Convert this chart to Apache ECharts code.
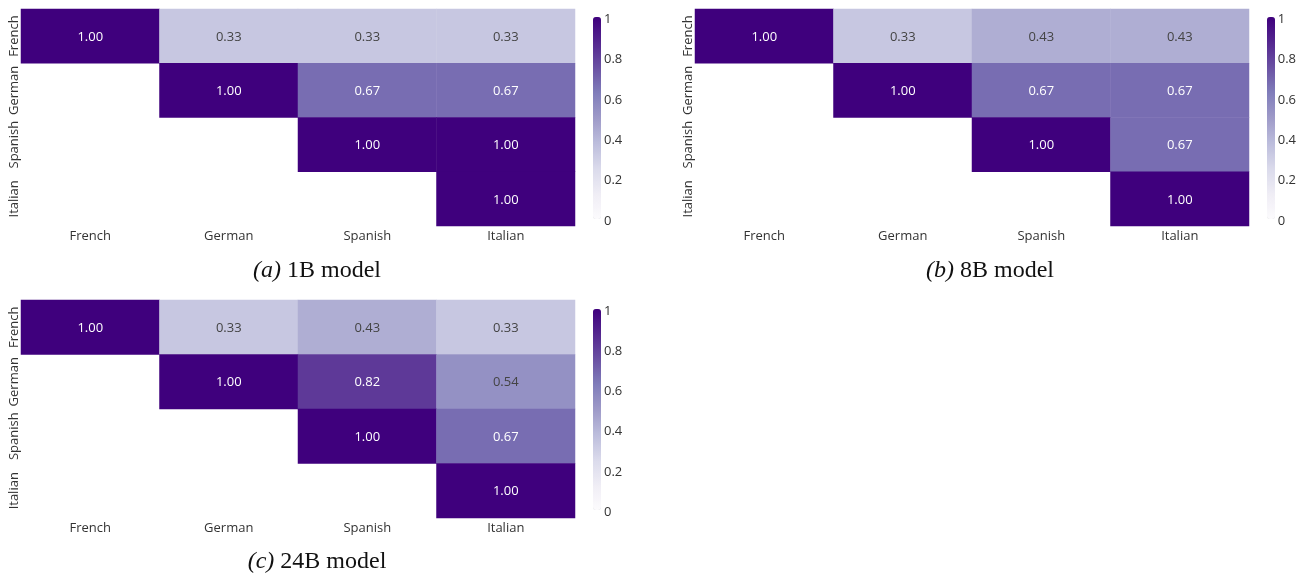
<!DOCTYPE html>
<html>
<head>
<meta charset="utf-8">
<script src="https://cdn.jsdelivr.net/npm/echarts@6/dist/echarts.min.js"></script>
<style>
  html, body { margin: 0; padding: 0; background: #fff; }
  #chart { width: 1299px; height: 573px; }
</style>
</head>
<body>
<div id="chart"></div>
<script>
// Languages on both axes (rows top to bottom, columns left to right)
const languages = ['French', 'German', 'Spanish', 'Italian'];

// Pairwise similarity, upper triangle only (null = not drawn)
const model1B = [
  [1.00, 0.33, 0.33, 0.33],
  [null, 1.00, 0.67, 0.67],
  [null, null, 1.00, 1.00],
  [null, null, null, 1.00]
];
const model8B = [
  [1.00, 0.33, 0.43, 0.43],
  [null, 1.00, 0.67, 0.67],
  [null, null, 1.00, 0.67],
  [null, null, null, 1.00]
];
const model24B = [
  [1.00, 0.33, 0.43, 0.33],
  [null, 1.00, 0.82, 0.54],
  [null, null, 1.00, 0.67],
  [null, null, null, 1.00]
];

const captions = [
  { tag: '(a)', text: '1B model' },
  { tag: '(b)', text: '8B model' },
  { tag: '(c)', text: '24B model' }
];
const colorbarTicks = [0, 0.2, 0.4, 0.6, 0.8, 1];

// Purples ramp
const purples = ['#fcfbfd', '#efedf5', '#dadaeb', '#bcbddc', '#9e9ac8',
                 '#807dba', '#6a51a3', '#54278f', '#3f007d'];

const LABEL_FONT = '"Open Sans", "Noto Sans", sans-serif';

const panels = [
  { matrix: model1B,  grid: { left: 21,  top: 9,   width: 554, height: 217 }, bar: { left: 593,  top: 17,  height: 202 }, cap: { x: 317, y: 259 } },
  { matrix: model8B,  grid: { left: 695, top: 9,   width: 554, height: 217 }, bar: { left: 1267, top: 17,  height: 202 }, cap: { x: 990, y: 259 } },
  { matrix: model24B, grid: { left: 21,  top: 300, width: 554, height: 218 }, bar: { left: 593,  top: 309, height: 201 }, cap: { x: 317, y: 550 } }
];

function toCells(matrix) {
  const cells = [];
  matrix.forEach((row, r) => row.forEach((v, c) => {
    if (v !== null) cells.push([c, r, v]);
  }));
  return cells;
}

const grids = [], xAxes = [], yAxes = [], series = [], visualMaps = [], titles = [];

panels.forEach((p, i) => {
  // heatmap grid
  grids.push(Object.assign({ containLabel: false }, p.grid));
  xAxes.push({
    type: 'category', data: languages, gridIndex: grids.length - 1,
    axisLine: { show: false }, axisTick: { show: false }, splitArea: { show: false },
    axisLabel: { fontFamily: LABEL_FONT, fontSize: 13, color: '#333', margin: 4, interval: 0 }
  });
  yAxes.push({
    type: 'category', data: languages, gridIndex: grids.length - 1, inverse: true,
    axisLine: { show: false }, axisTick: { show: false },
    axisLabel: { fontFamily: LABEL_FONT, fontSize: 13, color: '#333', margin: 0, rotate: 90, interval: 0, hideOverlap: false }
  });
  series.push({
    type: 'heatmap', xAxisIndex: xAxes.length - 1, yAxisIndex: yAxes.length - 1,
    data: toCells(p.matrix).map(d => ({
      value: d,
      // light text on dark cells
      label: { color: d[2] >= 0.6 ? '#ffffff' : '#444444' }
    })),
    label: {
      show: true, fontFamily: LABEL_FONT, fontSize: 13, offset: [0, 1],
      formatter: d => d.value[2].toFixed(2)
    },
    emphasis: { disabled: true },
    itemStyle: { borderWidth: 0 }
  });
  visualMaps.push({
    type: 'continuous', min: 0, max: 1, seriesIndex: series.length - 1,
    orient: 'vertical', left: p.bar.left, top: p.bar.top,
    itemWidth: 8, itemHeight: p.bar.height, padding: 0,
    calculable: false, hoverLink: false, text: null, showLabel: false,
    inRange: { color: purples }
  });

  // colorbar tick labels
  grids.push({ left: p.bar.left, top: p.bar.top + 2, width: 8, height: p.bar.height });
  xAxes.push({ type: 'value', gridIndex: grids.length - 1, show: false });
  yAxes.push({
    type: 'value', gridIndex: grids.length - 1, position: 'right',
    min: 0, max: 1, interval: 0.2,
    axisLine: { show: false }, axisTick: { show: false }, splitLine: { show: false },
    axisLabel: {
      fontFamily: LABEL_FONT, fontSize: 13, color: '#333', margin: 3,
      customValues: colorbarTicks
    }
  });

  titles.push({
    text: '{i|' + captions[i].tag + '} ' + captions[i].text,
    left: p.cap.x, top: p.cap.y, textAlign: 'center', padding: 0,
    textStyle: {
      fontFamily: '"Liberation Serif", "Times New Roman", serif',
      fontSize: 24, fontWeight: 'normal', color: '#111',
      rich: { i: { fontFamily: '"Liberation Serif", serif', fontSize: 24, fontStyle: 'italic', color: '#111' } }
    }
  });
});

const chart = echarts.init(document.getElementById('chart'), null, { renderer: 'canvas' });
chart.setOption({
  animation: false,
  backgroundColor: '#ffffff',
  title: titles,
  grid: grids,
  xAxis: xAxes,
  yAxis: yAxes,
  visualMap: visualMaps,
  series: series
});
</script>
</body>
</html>
